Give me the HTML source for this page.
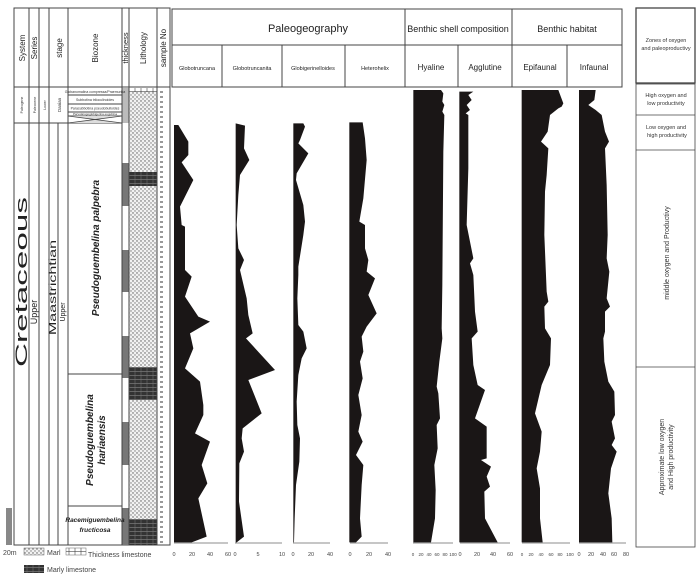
<!DOCTYPE html>
<html><head><meta charset="utf-8"><style>
html,body{margin:0;padding:0;background:#fff;}
svg{display:block;font-family:"Liberation Sans",sans-serif;}
</style></head><body>
<svg width="700" height="580" viewBox="0 0 700 580" xmlns="http://www.w3.org/2000/svg">
<defs>
<pattern id="dot" width="4" height="4" patternUnits="userSpaceOnUse"><rect width="4" height="4" fill="#f2f2f2"/><circle cx="1" cy="1" r="0.7" fill="#555"/><circle cx="3" cy="3" r="0.7" fill="#777"/></pattern>
<pattern id="marly" width="6" height="4" patternUnits="userSpaceOnUse"><rect width="6" height="4" fill="#333"/><line x1="0" y1="3.5" x2="6" y2="3.5" stroke="#888" stroke-width="0.6"/><line x1="3" y1="0" x2="3" y2="4" stroke="#777" stroke-width="0.5"/></pattern>
<pattern id="samp" width="13" height="5" patternUnits="userSpaceOnUse"><rect width="13" height="5" fill="#fff"/><rect x="4" y="1" width="3" height="2" fill="#999"/></pattern>
<pattern id="lime" width="6" height="4" patternUnits="userSpaceOnUse"><rect width="6" height="4" fill="#fff"/><line x1="0" y1="3.5" x2="6" y2="3.5" stroke="#444" stroke-width="0.6"/><line x1="3" y1="0" x2="3" y2="4" stroke="#444" stroke-width="0.6"/></pattern>
</defs>

<g stroke="#444" stroke-width="1" fill="none">
<rect x="14" y="8" width="156" height="537"/>
<line x1="14" y1="87" x2="170" y2="87"/>
<line x1="29" y1="8" x2="29" y2="545"/>
<line x1="39" y1="8" x2="39" y2="545"/>
<line x1="49" y1="8" x2="49" y2="545"/>
<line x1="58" y1="123" x2="58" y2="545"/>
<line x1="68" y1="8" x2="68" y2="545"/>
<line x1="122" y1="8" x2="122" y2="545"/>
<line x1="129" y1="8" x2="129" y2="545"/>
<line x1="157" y1="8" x2="157" y2="545"/>
<line x1="14" y1="123" x2="68" y2="123"/>
<line x1="68" y1="95" x2="122" y2="95"/>
<line x1="68" y1="104" x2="122" y2="104"/>
<line x1="68" y1="112" x2="122" y2="112"/>
<line x1="68" y1="116" x2="122" y2="116"/>
<line x1="68" y1="123" x2="122" y2="123"/>
<line x1="68" y1="374" x2="122" y2="374"/>
<line x1="68" y1="506" x2="122" y2="506"/>
</g>
<polygon points="68,116 122,116 95,120" fill="#ddd"/>
<polygon points="68,123 122,123 95,119" fill="#ddd"/>
<line x1="68" y1="116" x2="122" y2="123" stroke="#444" stroke-width="0.8"/>
<line x1="68" y1="123" x2="122" y2="116" stroke="#444" stroke-width="0.8"/>
<rect x="122.5" y="88" width="6" height="35" fill="#bbb"/>
<g fill="#777">
<rect x="122.5" y="163" width="6" height="43"/>
<rect x="122.5" y="250" width="6" height="42"/>
<rect x="122.5" y="336" width="6" height="42"/>
<rect x="122.5" y="422" width="6" height="43"/>
<rect x="122.5" y="508" width="6" height="37"/>
</g>
<rect x="129.5" y="88" width="27" height="456" fill="url(#dot)"/>
<rect x="129.5" y="88" width="27" height="4" fill="url(#lime)"/>
<rect x="129.5" y="172" width="27" height="14" fill="url(#marly)"/>
<rect x="129.5" y="367" width="27" height="33" fill="url(#marly)"/>
<rect x="129.5" y="519" width="27" height="26" fill="url(#marly)"/>
<rect x="157.5" y="88" width="12" height="456" fill="url(#samp)"/>

<g font-size="8" fill="#222">
<text transform="translate(25 48) rotate(-90)" text-anchor="middle">System</text>
<text transform="translate(37 48) rotate(-90)" text-anchor="middle">Series</text>
<text transform="translate(62 48) rotate(-90)" text-anchor="middle">stage</text>
<text transform="translate(98 48) rotate(-90)" text-anchor="middle">Biozone</text>
<text transform="translate(128 48) rotate(-90)" text-anchor="middle" font-size="7.5">thickness</text>
<text transform="translate(146 48) rotate(-90)" text-anchor="middle">Lithology</text>
<text transform="translate(166 48) rotate(-90)" text-anchor="middle">sample No</text>
</g>
<g font-size="3.5" fill="#333">
<text transform="translate(23 105) rotate(-90)" text-anchor="middle">Paleogene</text>
<text transform="translate(36 105) rotate(-90)" text-anchor="middle">Paleocene</text>
<text transform="translate(46 105) rotate(-90)" text-anchor="middle">Lower</text>
<text transform="translate(61 105) rotate(-90)" text-anchor="middle" font-size="4.5">Danian</text>
<text x="95" y="93" text-anchor="middle">Globanomalina compressa/Praemurica</text>
<text x="95" y="101" text-anchor="middle">Subbotina triloculinoides</text>
<text x="95" y="109.5" text-anchor="middle">Parasubbotina pseudobulloides</text>
<text x="95" y="115" text-anchor="middle" font-size="3">Parvularugoglobigerina eugubina</text>
</g>
<text transform="translate(27 367) rotate(-90)" font-size="17" fill="#222" textLength="170" lengthAdjust="spacingAndGlyphs">Cretaceous</text>
<text transform="translate(37 312) rotate(-90)" text-anchor="middle" font-size="9" fill="#222">Upper</text>
<text transform="translate(56 335) rotate(-90)" font-size="10" fill="#222" textLength="95" lengthAdjust="spacingAndGlyphs">Maastrichtian</text>
<text transform="translate(65 312) rotate(-90)" text-anchor="middle" font-size="7" fill="#222">Upper</text>
<text transform="translate(99 248) rotate(-90)" text-anchor="middle" font-size="10" font-weight="bold" font-style="italic" fill="#222">Pseudoguembelina palpebra</text>
<text transform="translate(93 440) rotate(-90)" text-anchor="middle" font-size="10" font-weight="bold" font-style="italic" fill="#222">Pseudoguembelina</text>
<text transform="translate(105 440) rotate(-90)" text-anchor="middle" font-size="10" font-weight="bold" font-style="italic" fill="#222">hariaensis</text>
<text x="95" y="522" text-anchor="middle" font-size="6.5" font-weight="bold" font-style="italic" fill="#222">Racemiguembelina</text>
<text x="95" y="532" text-anchor="middle" font-size="6.5" font-weight="bold" font-style="italic" fill="#222">fructicosa</text>

<rect x="6" y="508" width="6" height="37" fill="#888"/>
<g font-size="7" fill="#444">
<text x="3" y="555">20m</text>
<rect x="24" y="548" width="20" height="7" fill="url(#dot)" stroke="#666" stroke-width="0.5"/>
<text x="47" y="555">Marl</text>
<rect x="66" y="548" width="20" height="7" fill="url(#lime)" stroke="#666" stroke-width="0.5"/>
<text x="88" y="557">Thickness limestone</text>
<rect x="24" y="565" width="20" height="8" fill="url(#marly)"/>
<text x="47" y="572">Marly limestone</text>
</g>

<g stroke="#444" stroke-width="1" fill="none">
<rect x="172" y="9" width="450" height="78"/>
<line x1="172" y1="45" x2="622" y2="45"/>
<line x1="405" y1="9" x2="405" y2="87"/>
<line x1="512" y1="9" x2="512" y2="87"/>
<line x1="222" y1="45" x2="222" y2="87"/>
<line x1="282" y1="45" x2="282" y2="87"/>
<line x1="345" y1="45" x2="345" y2="87"/>
<line x1="458" y1="45" x2="458" y2="87"/>
<line x1="567" y1="45" x2="567" y2="87"/>
</g>
<g fill="#222" text-anchor="middle">
<text x="308" y="32" font-size="11">Paleogeography</text>
<text x="458" y="32" font-size="9">Benthic shell composition</text>
<text x="567" y="32" font-size="9">Benthic habitat</text>
<text x="197" y="70" font-size="5.5">Globotruncana</text>
<text x="252" y="70" font-size="5.5">Globotruncanita</text>
<text x="313" y="70" font-size="5.5">Globigerinelloides</text>
<text x="375" y="70" font-size="5.5">Heterohelix</text>
<text x="431" y="70" font-size="8">Hyaline</text>
<text x="485" y="70" font-size="8">Agglutine</text>
<text x="540" y="70" font-size="8">Epifaunal</text>
<text x="594" y="70" font-size="8">Infaunal</text>
</g>

<g transform="translate(170 85) scale(0.33333)" fill="#1a1616">
<polygon points="12,120 25,120 55,170 55,210 35,232 70,285 30,365 35,420 45,425 45,555 65,575 45,635 85,695 120,710 60,745 70,790 45,850 90,890 100,960 100,990 75,1045 120,1070 95,1140 112,1195 85,1240 110,1355 65,1372 12,1372"/>
<polygon points="197,115 225,122 222,190 238,225 210,270 205,330 200,420 205,490 222,525 210,555 230,640 235,690 248,745 228,760 315,855 235,885 275,985 218,1030 215,1060 222,1100 208,1135 207,1250 222,1355 200,1372 197,1372"/>
<polygon points="370,115 400,115 405,125 390,165 385,175 415,205 380,265 378,285 400,360 405,410 400,450 385,545 385,570 382,640 385,720 400,740 410,790 395,820 385,870 380,950 382,1020 390,1060 388,1130 378,1200 374,1300 372,1372 370,1372"/>
<polygon points="538,112 578,112 585,160 590,225 580,340 568,410 585,420 585,490 595,525 590,560 615,580 595,630 620,685 590,725 575,755 580,800 570,830 578,880 565,930 575,990 565,1040 578,1070 558,1110 580,1140 575,1200 570,1300 575,1355 558,1372 538,1372"/>
</g>
<g transform="translate(405 85) scale(0.33333)" fill="#1a1616">
<polygon points="25,15 108,15 115,25 112,50 118,60 112,80 118,90 115,200 112,600 110,730 112,760 103,830 95,905 100,925 105,1000 95,1020 98,1090 88,1140 92,1215 90,1300 78,1372 25,1372"/>
<polygon points="163,20 205,20 190,30 200,45 185,60 195,75 182,85 190,90 190,250 185,420 205,520 195,535 205,570 210,680 218,740 200,760 205,840 218,900 240,915 210,1000 245,1025 245,1120 228,1125 258,1145 245,1175 255,1205 238,1220 240,1300 278,1372 163,1372"/>
<polygon points="350,15 460,15 475,55 470,65 460,70 435,90 428,140 408,170 430,190 425,270 420,320 418,450 425,620 430,650 418,665 420,730 438,760 435,840 410,900 390,985 410,1040 405,1100 395,1150 405,1210 405,1300 413,1372 350,1372"/>
<polygon points="522,15 572,15 568,45 550,60 572,75 590,90 600,140 612,170 600,190 605,300 608,450 605,520 613,560 605,640 615,665 600,680 600,740 595,760 598,830 610,890 628,920 630,990 620,1010 630,1060 620,1080 635,1100 618,1150 610,1225 620,1300 622,1372 522,1372"/>
</g>

<g stroke="#666" stroke-width="0.8">
<line x1="174" y1="543" x2="228" y2="543"/>
<line x1="235" y1="543" x2="282" y2="543"/>
<line x1="293" y1="543" x2="330" y2="543"/>
<line x1="350" y1="543" x2="388" y2="543"/>
<line x1="413" y1="543" x2="453" y2="543"/>
<line x1="460" y1="543" x2="510" y2="543"/>
<line x1="522" y1="543" x2="570" y2="543"/>
<line x1="579" y1="543" x2="626" y2="543"/>
</g>
<g font-size="5.5" fill="#444" text-anchor="middle">
<text x="174" y="556">0</text><text x="192" y="556">20</text><text x="210" y="556">40</text><text x="228" y="556">60</text>
<text x="235" y="556">0</text><text x="258" y="556">5</text><text x="282" y="556">10</text>
<text x="293" y="556">0</text><text x="311" y="556">20</text><text x="330" y="556">40</text>
<text x="350" y="556">0</text><text x="369" y="556">20</text><text x="388" y="556">40</text>
<text x="413" y="556" font-size="4.5">0</text><text x="421" y="556" font-size="4.5">20</text><text x="429" y="556" font-size="4.5">40</text><text x="437" y="556" font-size="4.5">60</text><text x="445" y="556" font-size="4.5">80</text><text x="453" y="556" font-size="4.5">100</text>
<text x="460" y="556">0</text><text x="477" y="556">20</text><text x="493" y="556">40</text><text x="510" y="556">60</text>
<text x="522" y="556" font-size="4.5">0</text><text x="531" y="556" font-size="4.5">20</text><text x="541" y="556" font-size="4.5">40</text><text x="551" y="556" font-size="4.5">60</text><text x="560" y="556" font-size="4.5">80</text><text x="570" y="556" font-size="4.5">100</text>
<text x="579" y="556">0</text><text x="591" y="556">20</text><text x="603" y="556">40</text><text x="614" y="556">60</text><text x="626" y="556">80</text>
</g>

<g stroke="#444" fill="none">
<rect x="636" y="8" width="59" height="75" stroke-width="1.3"/>
<rect x="636" y="84" width="59" height="463" stroke-width="0.8"/>
<line x1="636" y1="115" x2="695" y2="115" stroke-width="0.8"/>
<line x1="636" y1="150" x2="695" y2="150" stroke-width="0.8"/>
<line x1="636" y1="367" x2="695" y2="367" stroke-width="0.8"/>
</g>
<g font-size="5.5" fill="#333" text-anchor="middle">
<text x="666" y="42">Zones of oxygen</text>
<text x="666" y="50">and paleoproductivy</text>
<text x="666" y="97">High oxygen and</text>
<text x="666" y="105">low productivity</text>
<text x="666" y="129">Low oxygen and</text>
<text x="667" y="137">high productivity</text>
</g>
<text transform="translate(669 253) rotate(-90)" text-anchor="middle" font-size="7" fill="#333">middle oxygen and Productivy</text>
<text transform="translate(664 457) rotate(-90)" text-anchor="middle" font-size="7" fill="#333">Approximate low oxygen</text>
<text transform="translate(673 457) rotate(-90)" text-anchor="middle" font-size="7" fill="#333">and High productivity</text>
</svg>
</body></html>
